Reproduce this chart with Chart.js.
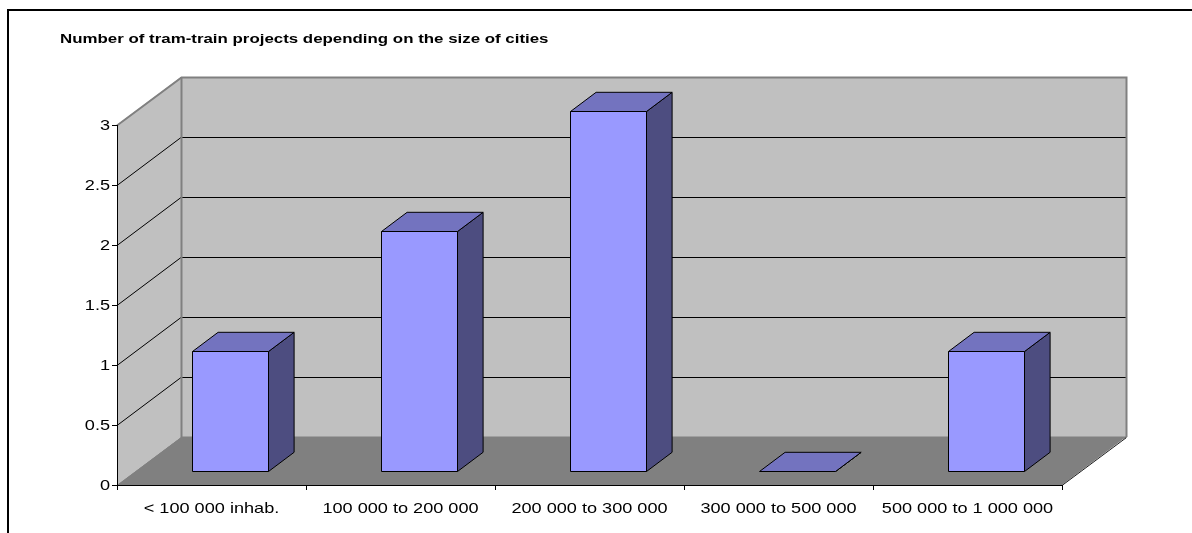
<!DOCTYPE html>
<html>
<head>
<meta charset="utf-8">
<script src="https://cdn.jsdelivr.net/npm/chart.js@4/dist/chart.umd.min.js"></script>
<style>
    html, body { margin: 0; padding: 0; background: #fff; }
    canvas { display: block; }
</style>
</head>
<body>
<canvas id="chart" width="1192" height="533"></canvas>
<script>
// Data
const categories = ['< 100 000 inhab.', '100 000 to 200 000', '200 000 to 300 000', '300 000 to 500 000', '500 000 to 1 000 000'];
const projectCounts = [1, 2, 3, 0, 1];
const yTicks = [0, 0.5, 1, 1.5, 2, 2.5, 3];
const chartTitle = 'Number of tram-train projects depending on the size of cities';

// 3D look
const colors = {
    wall: '#c0c0c0',
    floor: '#808080',
    edge: '#808080',
    grid: '#000000',
    front: '#9999ff',
    top: '#7373bf',
    side: '#4d4d80'
};
const depth = { dx: 64, dy: 48 };      // floor depth, px
const barDepth = [0.29, 0.69];         // bar front/back as share of depth
const textStretch = 1.25;              // the original text is drawn wide
const fontFamily = '"Liberation Sans", Arial, sans-serif';

function poly(ctx, pts, fill, stroke) {
    ctx.beginPath();
    ctx.moveTo(pts[0][0], pts[0][1]);
    for (let i = 1; i < pts.length; i++) ctx.lineTo(pts[i][0], pts[i][1]);
    ctx.closePath();
    if (fill) { ctx.fillStyle = fill; ctx.fill(); }
    if (stroke) { ctx.strokeStyle = stroke; ctx.stroke(); }
}

function line(ctx, pts, color, width) {
    ctx.beginPath();
    ctx.moveTo(pts[0][0], pts[0][1]);
    for (let i = 1; i < pts.length; i++) ctx.lineTo(pts[i][0], pts[i][1]);
    ctx.strokeStyle = color;
    ctx.lineWidth = width || 1;
    ctx.stroke();
}

function wideText(ctx, text, x, y, align, font) {
    ctx.save();
    ctx.font = font;
    ctx.fillStyle = '#000';
    ctx.textAlign = align;
    ctx.textBaseline = 'alphabetic';
    ctx.translate(x, y);
    ctx.scale(textStretch, 1);
    ctx.fillText(text, 0, 0);
    ctx.restore();
}

// Walls, floor and gridlines behind the bars
const wallsPlugin = {
    id: 'walls',
    beforeDraw(chart) {
        const ctx = chart.ctx;
        const area = chart.chartArea;
        const y = chart.scales.y;
        const { dx, dy } = depth;
        const L = area.left, R = area.right;
        const yMax = y.getPixelForValue(y.max), y0 = y.getPixelForValue(0);

        ctx.save();
        // outer frame
        ctx.lineWidth = 2;
        ctx.strokeStyle = '#000';
        ctx.strokeRect(8, 10, 1400, 800);

        ctx.lineWidth = 1;
        // back wall
        poly(ctx, [[L + dx, yMax - dy], [R + dx, yMax - dy], [R + dx, y0 - dy], [L + dx, y0 - dy]], colors.wall);
        // left wall
        poly(ctx, [[L, yMax], [L + dx, yMax - dy], [L + dx, y0 - dy], [L, y0]], colors.wall);
        // floor
        poly(ctx, [[L, y0], [L + dx, y0 - dy], [R + dx, y0 - dy], [R, y0]], colors.floor);

        // gridlines on left and back wall
        y.ticks.forEach(t => {
            if (t.value === 0 || t.value === y.max) return;
            const py = Math.round(y.getPixelForValue(t.value)) + 0.5;
            line(ctx, [[L, py], [L + dx, py - dy], [R + dx, py - dy]], colors.grid);
        });

        // wall edges
        line(ctx, [[L, yMax + 0.5], [L + dx + 0.5, yMax - dy + 0.5], [R + dx + 0.5, yMax - dy + 0.5], [R + dx + 0.5, y0 - dy]], colors.edge, 2);
        line(ctx, [[L + dx + 0.5, yMax - dy], [L + dx + 0.5, y0 - dy + 0.5], [R + dx, y0 - dy + 0.5]], colors.edge, 2);
        line(ctx, [[L, y0 + 0.5], [L + dx + 0.5, y0 - dy + 0.5]], colors.edge, 1);
        line(ctx, [[R, y0 + 0.5], [R + dx + 0.5, y0 - dy + 0.5]], '#202020', 1);
        ctx.restore();
    },
    afterDatasetsDraw(chart) {
        const ctx = chart.ctx;
        const meta = chart.getDatasetMeta(0);
        const { dx, dy } = depth;
        const fx = dx * barDepth[0], fy = dy * barDepth[0];
        const ddx = dx * (barDepth[1] - barDepth[0]), ddy = dy * (barDepth[1] - barDepth[0]);

        ctx.save();
        ctx.lineWidth = 1;
        ctx.lineJoin = 'round';
        meta.data.forEach(bar => {
            const p = bar.getProps(['x', 'y', 'base', 'width'], true);
            const l = Math.round(p.x - p.width / 2 + fx) + 0.5;
            const r = Math.round(p.x + p.width / 2 + fx) + 0.5;
            const t = Math.round(p.y - fy) + 0.5;
            const b = Math.round(p.base - fy) + 0.5;
            poly(ctx, [[r, t], [r + ddx, t - ddy], [r + ddx, b - ddy], [r, b]], colors.side, '#000');
            poly(ctx, [[l, t], [l + ddx, t - ddy], [r + ddx, t - ddy], [r, t]], colors.top, '#000');
            if (b > t) poly(ctx, [[l, t], [r, t], [r, b], [l, b]], colors.front, '#000');
        });
        ctx.restore();
    },
    afterDraw(chart) {
        const ctx = chart.ctx;
        const x = chart.scales.x, y = chart.scales.y;
        const area = chart.chartArea;

        wideText(ctx, chartTitle, 60, 43, 'left', 'bold 13.5px ' + fontFamily);

        y.ticks.forEach(t => {
            const py = y.getPixelForValue(t.value);
            wideText(ctx, String(t.value), area.left - 7, py + 5, 'right', '14.5px ' + fontFamily);
        });
        categories.forEach((c, i) => {
            wideText(ctx, c, x.getPixelForValue(i), area.bottom + 28, 'center', '14.5px ' + fontFamily);
        });
    }
};

const ctx = document.getElementById('chart').getContext('2d');
const chart = new Chart(ctx, {
    type: 'bar',
    data: {
        labels: categories,
        datasets: [{
            label: 'Projects',
            data: projectCounts,
            backgroundColor: 'rgba(0,0,0,0)',
            borderWidth: 0,
            categoryPercentage: 1,
            barPercentage: 0.4
        }]
    },
    options: {
        responsive: false,
        animation: false,
        devicePixelRatio: 1,
        layout: { padding: { left: 0, top: 125, right: 130, bottom: 0 } },
        scales: {
            x: {
                offset: true,
                grid: { offset: true, drawOnChartArea: false, drawTicks: true, tickLength: 5, color: '#000' },
                border: { display: true, color: '#000', width: 1 },
                ticks: { display: false },
                afterFit(scale) { scale.height = 48; }
            },
            y: {
                min: 0,
                max: 3,
                afterBuildTicks(scale) { scale.ticks = yTicks.map(v => ({ value: v })); },
                grid: { drawOnChartArea: false, drawTicks: true, tickLength: 5, color: '#000' },
                border: { display: true, color: '#000', width: 1 },
                ticks: { display: false },
                afterFit(scale) { scale.width = 117; }
            }
        },
        plugins: {
            legend: { display: false },
            tooltip: { enabled: false },
            title: { display: false }
        }
    },
    plugins: [wallsPlugin]
});
</script>
</body>
</html>
